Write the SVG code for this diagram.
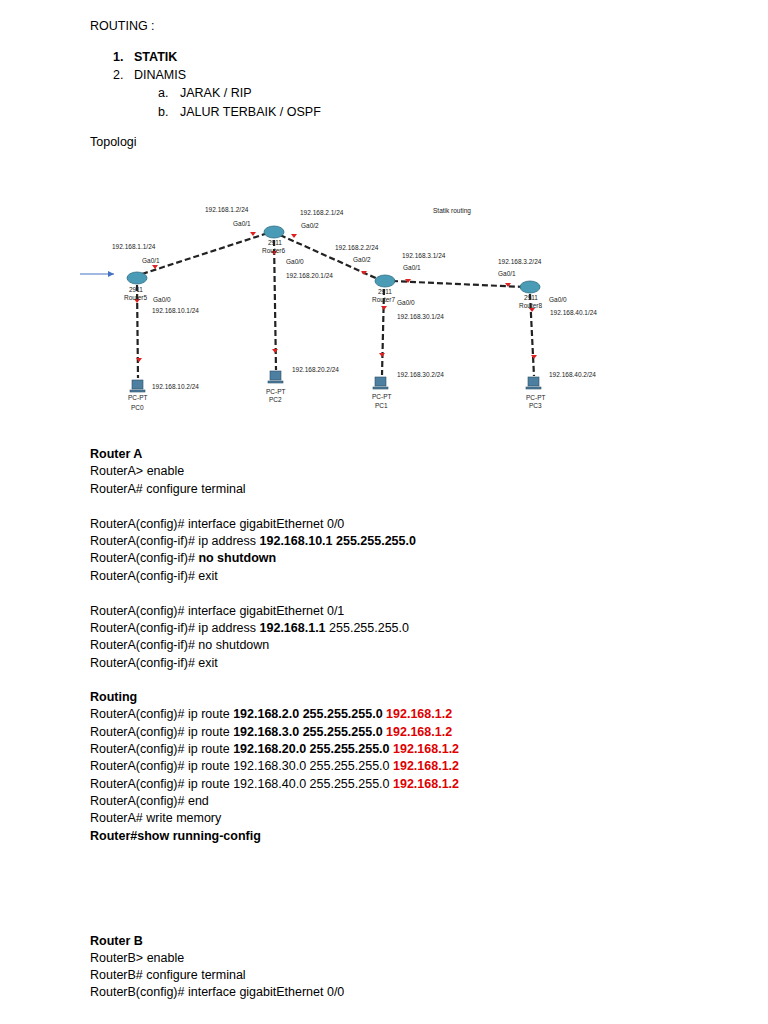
<svg xmlns="http://www.w3.org/2000/svg" width="768" height="1024" viewBox="0 0 768 1024">
<style>
.t{font-family:"Liberation Sans",Arial,sans-serif;font-size:12.5px;fill:#000}
.b{font-weight:bold}
.r{fill:#e00000;font-weight:bold}
.s{font-family:"Liberation Sans",Arial,sans-serif;font-size:6.5px;fill:#222}
.l{stroke:#222;stroke-width:2.2;stroke-dasharray:6,3;fill:none}
.a{fill:#e02020}
.rt{fill:#4a9bb5;stroke:#2d6f85;stroke-width:0.8}
.pc{fill:#4d7fa0;stroke:#2a4d66;stroke-width:0.6}
</style>
<rect width="768" height="1024" fill="#fff"/>
<g id="heading">
<text class="t" x="90" y="30">ROUTING :</text>
<text class="t b" x="113" y="61">1.</text><text class="t b" x="134" y="61">STATIK</text>
<text class="t" x="113" y="79">2.</text><text class="t" x="134" y="79">DINAMIS</text>
<text class="t" x="158" y="97">a.</text><text class="t" x="180" y="97">JARAK / RIP</text>
<text class="t" x="158" y="116">b.</text><text class="t" x="180" y="116">JALUR TERBAIK / OSPF</text>
<text class="t" x="90" y="146">Topologi</text>
</g>
<g id="connectors">
<line class="l" x1="142" y1="274" x2="268" y2="233"/>
<line class="l" x1="280" y1="235" x2="380" y2="280"/>
<line class="l" x1="392" y1="281" x2="524" y2="287"/>
<line class="l" x1="137" y1="285" x2="138" y2="378"/>
<line class="l" x1="274" y1="240" x2="276" y2="370"/>
<line class="l" x1="384" y1="289" x2="382" y2="375"/>
<line class="l" x1="530" y1="294" x2="534" y2="376"/>
<path d="M80 274 H114" stroke="#4472c4" stroke-width="1"/>
<path d="M114 274 l-6 -3 v6 z" fill="#4472c4"/>
<g class="a">
<path d="M155 269 l-3 -4 h6 z"/><path d="M253 236 l-3 -4 h6 z"/>
<path d="M294 238 l-3 -4 h6 z"/><path d="M364 275 l-3 -4 h6 z"/>
<path d="M408 283 l-3 -4 h6 z"/><path d="M508 287 l-3 -4 h6 z"/>
<path d="M137 303 l-3 -4 h6 z"/><path d="M139 362 l-3 -4 h6 z"/>
<path d="M274 255 l-3 -4 h6 z"/><path d="M275 353 l-3 -4 h6 z"/>
<path d="M384 310 l-3 -4 h6 z"/><path d="M382 357 l-3 -4 h6 z"/>
<path d="M532 312 l-3 -4 h6 z"/><path d="M534 359 l-3 -4 h6 z"/>
</g>
</g>
<g id="router5"><ellipse class="rt" cx="137" cy="278" rx="10" ry="6"/><text class="s" x="129" y="292">2911</text><text class="s" x="124" y="300">Router5</text></g>
<g id="router6"><ellipse class="rt" cx="274" cy="232" rx="10" ry="6"/><text class="s" x="268" y="245">2911</text><text class="s" x="262" y="253">Router6</text></g>
<g id="router7"><ellipse class="rt" cx="385" cy="281" rx="10" ry="6"/><text class="s" x="378" y="294">2911</text><text class="s" x="372" y="302">Router7</text></g>
<g id="router8"><ellipse class="rt" cx="530" cy="287" rx="10" ry="6"/><text class="s" x="524" y="300">2911</text><text class="s" x="519" y="308">Router8</text></g>
<g id="pc0"><rect class="pc" x="132" y="380" width="11" height="9"/><rect class="pc" x="130" y="390" width="15" height="2"/><text class="s" x="128" y="400">PC-PT</text><text class="s" x="131" y="410">PC0</text></g>
<g id="pc2"><rect class="pc" x="270" y="371" width="11" height="9"/><rect class="pc" x="268" y="381" width="15" height="2"/><text class="s" x="266" y="394">PC-PT</text><text class="s" x="269" y="402">PC2</text></g>
<g id="pc1"><rect class="pc" x="375" y="377" width="11" height="9"/><rect class="pc" x="373" y="387" width="15" height="2"/><text class="s" x="372" y="399">PC-PT</text><text class="s" x="375" y="408">PC1</text></g>
<g id="pc3"><rect class="pc" x="528" y="377" width="11" height="9"/><rect class="pc" x="526" y="387" width="15" height="2"/><text class="s" x="526" y="400">PC-PT</text><text class="s" x="529" y="408">PC3</text></g>
<g id="labels">
<text class="s" x="205" y="212">192.168.1.2/24</text><text class="s" x="233" y="226">Ga0/1</text>
<text class="s" x="300" y="215">192.168.2.1/24</text><text class="s" x="301" y="228">Ga0/2</text>
<text class="s" x="112" y="249">192.168.1.1/24</text><text class="s" x="142" y="263">Ga0/1</text>
<text class="s" x="286" y="264">Ga0/0</text><text class="s" x="286" y="278">192.168.20.1/24</text>
<text class="s" x="335" y="250">192.168.2.2/24</text><text class="s" x="353" y="262">Ga0/2</text>
<text class="s" x="402" y="258">192.168.3.1/24</text><text class="s" x="403" y="270">Ga0/1</text>
<text class="s" x="498" y="264">192.168.3.2/24</text><text class="s" x="498" y="276">Ga0/1</text>
<text class="s" x="433" y="213">Statik routing</text>
<text class="s" x="153" y="302">Ga0/0</text><text class="s" x="152" y="313">192.168.10.1/24</text>
<text class="s" x="397" y="305">Ga0/0</text><text class="s" x="397" y="319">192.168.30.1/24</text>
<text class="s" x="549" y="302">Ga0/0</text><text class="s" x="550" y="315">192.168.40.1/24</text>
<text class="s" x="152" y="389">192.168.10.2/24</text><text class="s" x="292" y="372">192.168.20.2/24</text>
<text class="s" x="397" y="377">192.168.30.2/24</text><text class="s" x="549" y="377">192.168.40.2/24</text>
</g>
<g id="config">
<text class="t b" x="90" y="458">Router A</text>
<text class="t" x="90" y="475">RouterA&gt; enable</text>
<text class="t" x="90" y="493">RouterA# configure terminal</text>
<text class="t" x="90" y="528">RouterA(config)# interface gigabitEthernet 0/0</text>
<text class="t" x="90" y="545">RouterA(config-if)# ip address <tspan class="b">192.168.10.1 255.255.255.0</tspan></text>
<text class="t" x="90" y="562">RouterA(config-if)# <tspan class="b">no shutdown</tspan></text>
<text class="t" x="90" y="580">RouterA(config-if)# exit</text>
<text class="t" x="90" y="615">RouterA(config)# interface gigabitEthernet 0/1</text>
<text class="t" x="90" y="632">RouterA(config-if)# ip address <tspan class="b">192.168.1.1</tspan> 255.255.255.0</text>
<text class="t" x="90" y="649">RouterA(config-if)# no shutdown</text>
<text class="t" x="90" y="667">RouterA(config-if)# exit</text>
<text class="t b" x="90" y="701">Routing</text>
<text class="t" x="90" y="718">RouterA(config)# ip route <tspan class="b">192.168.2.0 255.255.255.0</tspan> <tspan class="r">192.168.1.2</tspan></text>
<text class="t" x="90" y="736">RouterA(config)# ip route <tspan class="b">192.168.3.0 255.255.255.0</tspan> <tspan class="r">192.168.1.2</tspan></text>
<text class="t" x="90" y="753">RouterA(config)# ip route <tspan class="b">192.168.20.0 255.255.255.0</tspan> <tspan class="r">192.168.1.2</tspan></text>
<text class="t" x="90" y="770">RouterA(config)# ip route 192.168.30.0 255.255.255.0 <tspan class="r">192.168.1.2</tspan></text>
<text class="t" x="90" y="788">RouterA(config)# ip route 192.168.40.0 255.255.255.0 <tspan class="r">192.168.1.2</tspan></text>
<text class="t" x="90" y="805">RouterA(config)# end</text>
<text class="t" x="90" y="822">RouterA# write memory</text>
<text class="t b" x="90" y="840">Router#show running-config</text>
<text class="t b" x="90" y="945">Router B</text>
<text class="t" x="90" y="962">RouterB&gt; enable</text>
<text class="t" x="90" y="979">RouterB# configure terminal</text>
<text class="t" x="90" y="996">RouterB(config)# interface gigabitEthernet 0/0</text>
</g>
</svg>
